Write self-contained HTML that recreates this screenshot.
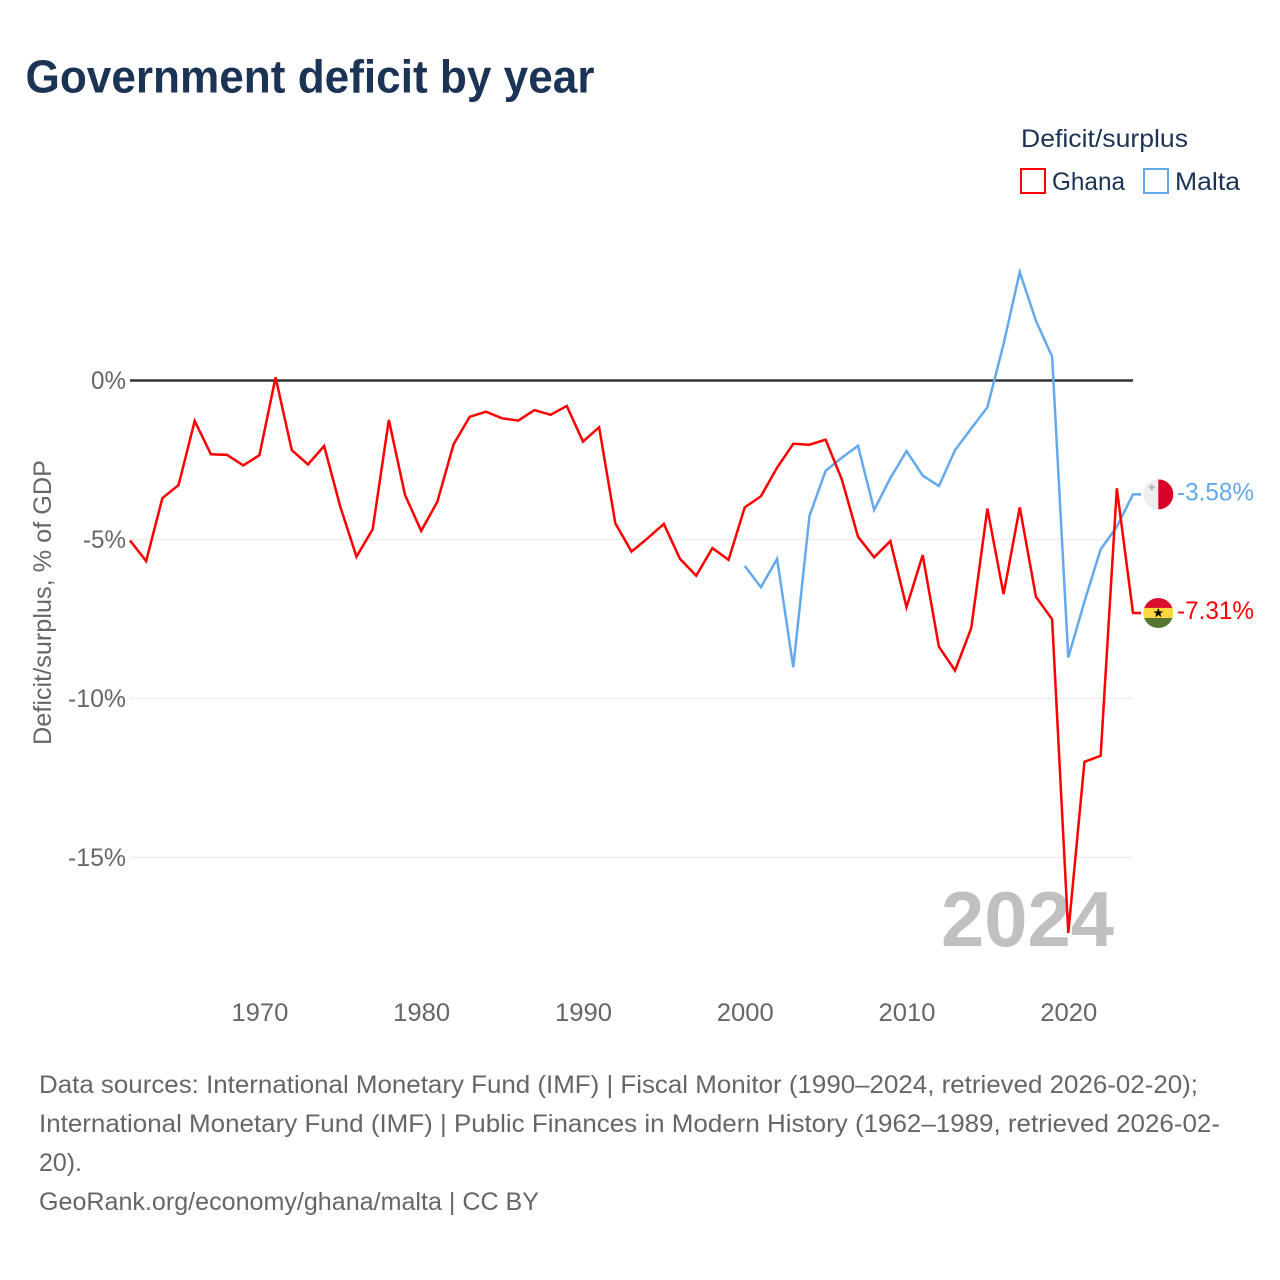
<!DOCTYPE html>
<html lang="en">
<head>
<meta charset="utf-8">
<title>Government deficit by year</title>
<style>
html,body{margin:0;padding:0;background:#fff;}
svg{display:block;font-family:"Liberation Sans",sans-serif;}
</style>
</head>
<body>
<svg id="chart" xmlns="http://www.w3.org/2000/svg" width="1280" height="1280" viewBox="0 0 1280 1280">
  <defs>
    <clipPath id="malta-clip"><circle id="malta-clip-circle" r="15"></circle></clipPath>
    <clipPath id="ghana-clip"><circle id="ghana-clip-circle" r="15"></circle></clipPath>
  </defs>
  <rect x="0" y="0" width="1280" height="1280" fill="#ffffff"></rect>
  <text x="25.5" y="92.5" font-size="46" font-weight="700" fill="#1b3354" textLength="569" lengthAdjust="spacingAndGlyphs">Government deficit by year</text>

  <text x="1021" y="147" font-size="25" fill="#1b3354" textLength="167" lengthAdjust="spacingAndGlyphs">Deficit/surplus</text>
  <rect x="1021" y="169" width="24" height="24" fill="none" stroke="#ff0000" stroke-width="2"></rect>
  <text x="1052" y="190" font-size="25" fill="#1b3354" textLength="73" lengthAdjust="spacingAndGlyphs">Ghana</text>
  <rect x="1144" y="169" width="24" height="24" fill="none" stroke="#64a9ec" stroke-width="2"></rect>
  <text x="1175" y="190" font-size="25" fill="#1b3354" textLength="65" lengthAdjust="spacingAndGlyphs">Malta</text>

  <text transform="translate(51,745) rotate(-90)" x="0" y="0" font-size="25" fill="#666666" textLength="285" lengthAdjust="spacingAndGlyphs">Deficit/surplus, % of GDP</text>

  <g id="grid-layer"></g>
  <text x="941" y="946" font-size="78" font-weight="700" fill="#c0c0c0" textLength="173" lengthAdjust="spacingAndGlyphs">2024</text>
  <g id="zero-layer"></g>
  <g id="y-tick-layer"></g>
  <g id="x-tick-layer"></g>
  <g id="series-layer"></g>

  <g id="flag-malta" clip-path="url(#malta-clip)">
    <rect x="-15" y="-15" width="15" height="30" fill="#eeeeee"></rect>
    <rect x="0" y="-15" width="15" height="30" fill="#d80027"></rect>
    <path d="M-7.5-10h2v2h2v2h-2v2h-2v-2h-2v-2h2z" fill="#b5b5b5"></path>
  </g>
  <g id="flag-ghana" clip-path="url(#ghana-clip)">
    <rect x="-15" y="-15" width="30" height="10" fill="#d80f2d"></rect>
    <rect x="-15" y="-5" width="30" height="10" fill="#ffd83f"></rect>
    <rect x="-15" y="5" width="30" height="10" fill="#56752f"></rect>
    <polygon points="0,-5 1.3,-1.5 5,-1.5 2,0.7 3.1,4.2 0,2.1 -3.1,4.2 -2,0.7 -5,-1.5 -1.3,-1.5" fill="#000000"></polygon>
  </g>
  <g id="end-label-layer"></g>

  <g font-size="25" fill="#666666">
    <text x="39" y="1093" textLength="1159" lengthAdjust="spacingAndGlyphs">Data sources: International Monetary Fund (IMF) | Fiscal Monitor (1990–2024, retrieved 2026-02-20);</text>
    <text x="39" y="1132" textLength="1181" lengthAdjust="spacingAndGlyphs">International Monetary Fund (IMF) | Public Finances in Modern History (1962–1989, retrieved 2026-02-</text>
    <text x="39" y="1171" textLength="43" lengthAdjust="spacingAndGlyphs">20).</text>
    <text x="39" y="1210" textLength="500" lengthAdjust="spacingAndGlyphs">GeoRank.org/economy/ghana/malta | CC BY</text>
  </g>
</svg>
<script>
const ghanaYears = [1962,1963,1964,1965,1966,1967,1968,1969,1970,1971,1972,1973,1974,1975,1976,1977,1978,1979,1980,1981,1982,1983,1984,1985,1986,1987,1988,1989,1990,1991,1992,1993,1994,1995,1996,1997,1998,1999,2000,2001,2002,2003,2004,2005,2006,2007,2008,2009,2010,2011,2012,2013,2014,2015,2016,2017,2018,2019,2020,2021,2022,2023,2024];
const ghanaValues = [-5.03,-5.68,-3.70,-3.29,-1.27,-2.32,-2.34,-2.67,-2.35,0.10,-2.19,-2.64,-2.06,-3.97,-5.54,-4.68,-1.24,-3.60,-4.73,-3.81,-2.01,-1.14,-0.98,-1.19,-1.26,-0.93,-1.08,-0.80,-1.92,-1.47,-4.49,-5.38,-4.96,-4.51,-5.61,-6.14,-5.27,-5.64,-3.99,-3.64,-2.74,-1.99,-2.02,-1.86,-3.11,-4.91,-5.56,-5.05,-7.13,-5.49,-8.37,-9.12,-7.79,-4.03,-6.72,-3.99,-6.80,-7.51,-17.37,-11.99,-11.80,-3.39,-7.31];
const maltaYears = [2000,2001,2002,2003,2004,2005,2006,2007,2008,2009,2010,2011,2012,2013,2014,2015,2016,2017,2018,2019,2020,2021,2022,2023,2024];
const maltaValues = [-5.83,-6.50,-5.61,-9.02,-4.26,-2.84,-2.43,-2.05,-4.07,-3.07,-2.22,-2.99,-3.32,-2.19,-1.51,-0.84,1.15,3.41,1.88,0.75,-8.71,-6.95,-5.31,-4.60,-3.58];
const yTickValues = [0,-5,-10,-15];
const yTickLabels = ["0%","-5%","-10%","-15%"];
const xTickValues = [1970,1980,1990,2000,2010,2020];
const xTickLabels = ["1970","1980","1990","2000","2010","2020"];

const SVG_NS = "http://www.w3.org/2000/svg";
const xAxis = function (year) { return 130 + (year - 1962) * (1133 - 130) / (2024 - 1962); };
const yAxis = function (value) { return 380.5 - value * 31.8; };
const plotLeft = xAxis(1962);
const plotRight = xAxis(2024);

function make(tag, attrs, parent, text) {
  const el = document.createElementNS(SVG_NS, tag);
  Object.keys(attrs).forEach(function (k) { el.setAttribute(k, attrs[k]); });
  if (text !== undefined) { el.textContent = text; }
  parent.appendChild(el);
  return el;
}

const gridLayer = document.getElementById("grid-layer");
const zeroLayer = document.getElementById("zero-layer");
const yTickLayer = document.getElementById("y-tick-layer");
const xTickLayer = document.getElementById("x-tick-layer");
const seriesLayer = document.getElementById("series-layer");
const endLabelLayer = document.getElementById("end-label-layer");

yTickValues.forEach(function (value, i) {
  const isZero = value === 0;
  const line = make("line", {
    x1: plotLeft, x2: plotRight, y1: yAxis(value), y2: yAxis(value),
    stroke: isZero ? "#333333" : "#eeeeee",
    "stroke-width": isZero ? 2.5 : 1.5
  }, isZero ? zeroLayer : gridLayer);
  
  
  const label = yTickLabels[i];
  const width = label.length === 2 ? 35 : (label.length === 3 ? 43 : 58);
  const tick = make("text", {
    x: 126 - width, y: yAxis(value) + 8.5, "font-size": 25, fill: "#666666",
    textLength: width, lengthAdjust: "spacingAndGlyphs"
  }, yTickLayer, label);
  
  
});

xTickValues.forEach(function (year, i) {
  const tick = make("text", {
    x: xAxis(year) - 28, y: 1021, "font-size": 25, fill: "#666666",
    textLength: 57, lengthAdjust: "spacingAndGlyphs"
  }, xTickLayer, xTickLabels[i]);
  
  
});

function drawSeries(years, values, color, name, flagId, clipId) {
  const last = values[values.length - 1];
  const endY = yAxis(last);
  const pts = years.map(function (y, i) { return xAxis(y).toFixed(2) + "," + yAxis(values[i]).toFixed(2); });
  pts.push((plotRight + 8).toFixed(2) + "," + endY.toFixed(2));
  const line = make("polyline", {
    points: pts.join(" "), fill: "none", stroke: color,
    "stroke-width": 2.5, "stroke-linejoin": "miter", "stroke-miterlimit": 4
  }, seriesLayer);
  
  
  const flagTransform = "translate(1158.3," + endY.toFixed(2) + ")";
  document.getElementById(flagId).setAttribute("transform", flagTransform);
  document.getElementById(clipId).setAttribute("r", "15");
  const label = make("text", {
    x: 1177, y: endY + 6, "font-size": 25, fill: color,
    textLength: 77, lengthAdjust: "spacingAndGlyphs"
  }, endLabelLayer, last.toFixed(2) + "%");
  
  
}

drawSeries(maltaYears, maltaValues, "#64a9ec", "malta-line", "flag-malta", "malta-clip-circle");
drawSeries(ghanaYears, ghanaValues, "#ff0000", "ghana-line", "flag-ghana", "ghana-clip-circle");
</script>
</body>
</html>
